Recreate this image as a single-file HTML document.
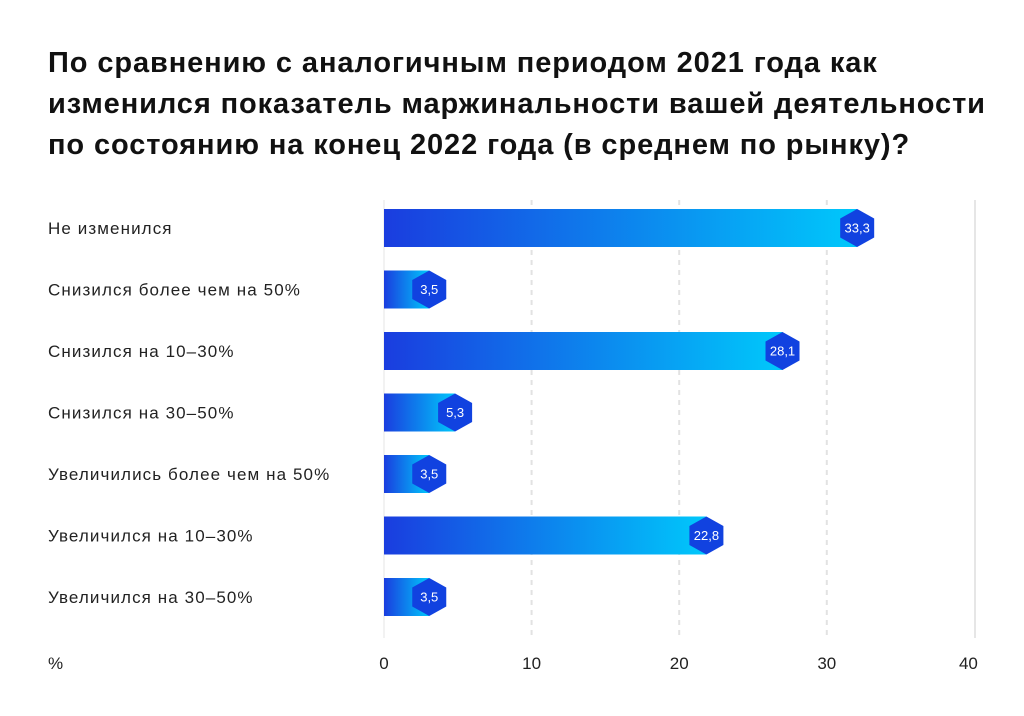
<!DOCTYPE html>
<html><head><meta charset="utf-8"><style>
body{margin:0;background:#fff;font-family:"Liberation Sans",sans-serif;}
#t{position:absolute;left:48px;top:43px;font-size:29px;font-weight:bold;line-height:41px;color:#111;letter-spacing:0.9px;white-space:nowrap}
</style></head><body>
<div id="t">По сравнению с аналогичным периодом 2021 года как<br>изменился показатель маржинальности вашей деятельности<br>по состоянию на конец 2022 года (в среднем по рынку)?</div>
<svg id="c" width="1024" height="716" style="position:absolute;left:0;top:0">
<defs><linearGradient id="g" x1="0" x2="1" y1="0" y2="0"><stop offset="0" stop-color="#1a3ddf"/><stop offset="1" stop-color="#00c8fb"/></linearGradient></defs>
</svg>
<script>
const categories=["Не изменился","Снизился более чем на 50%","Снизился на 10–30%","Снизился на 30–50%","Увеличились более чем на 50%","Увеличился на 10–30%","Увеличился на 30–50%"];
const values=[33.3,3.5,28.1,5.3,3.5,22.8,3.5];
const labels=["33,3","3,5","28,1","5,3","3,5","22,8","3,5"];
const ticks=[0,10,20,30,40];
const svg=document.getElementById('c');const NS='http://www.w3.org/2000/svg';
function x(v){return 384+v*14.76;}
function xb(v){return 379+v*14.36;}
function y(i){return 228+i*61.5;}
function mk(t,a,p){const e=document.createElementNS(NS,t);for(const k in a)e.setAttribute(k,a[k]);(p||svg).appendChild(e);return e;}
ticks.forEach((t,i)=>{
 if(t>0&&t<40){const l=mk('line',{x1:x(t),x2:x(t),y1:200,y2:638,stroke:'#e2e2e2','stroke-width':2,'stroke-dasharray':'5,5'});}
 const px=i===ticks.length-1?x(t)-6:x(t);
 const tx=mk('text',{x:px,y:669,'font-size':17,'text-anchor':'middle',fill:'#222'});tx.textContent=t;
 
});
const rb=mk('line',{x1:975,x2:975,y1:200,y2:638,stroke:'#e6e6e6','stroke-width':2});

const la=mk('line',{x1:384,x2:384,y1:200,y2:638,stroke:'#e6e6e6','stroke-width':1});

const pc=mk('text',{x:48,y:669,'font-size':17,fill:'#222'});pc.textContent='%';

categories.forEach((c,i)=>{
 const cy=y(i),e=xb(values[i]);
 const lb=mk('text',{x:48,y:cy+6,'font-size':17,fill:'#222','letter-spacing':'1.1'});lb.textContent=c;
 
 const b=mk('rect',{x:384,y:cy-19,width:Math.max(0,e-384),height:38,fill:'url(#g)'});
 
 const h=19,w=17;
 const hx=mk('polygon',{points:`${e},${cy-h} ${e+w},${cy-h/2} ${e+w},${cy+h/2} ${e},${cy+h} ${e-w},${cy+h/2} ${e-w},${cy-h/2}`,fill:'#1142e0'});
 
 const vt=mk('text',{x:e,y:cy+4.5,'font-size':13,'text-anchor':'middle',fill:'#fff'});vt.textContent=labels[i];
 
});
</script>
</body></html>
